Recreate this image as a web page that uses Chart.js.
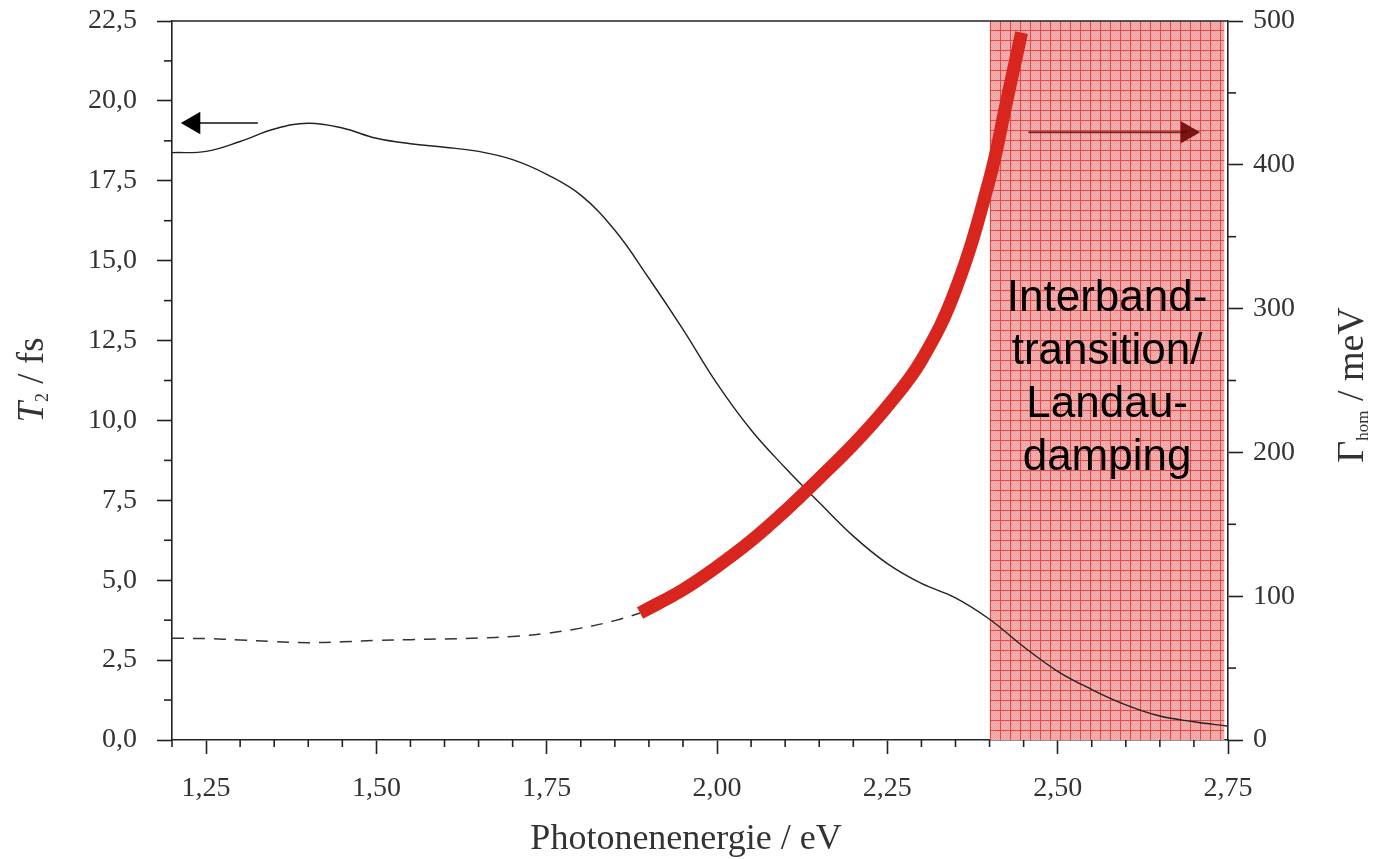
<!DOCTYPE html>
<html>
<head>
<meta charset="utf-8">
<script src="https://cdn.jsdelivr.net/npm/chart.js@4/dist/chart.umd.min.js"></script>
<style>
  body { margin: 0; background: #fff; }
  #wrap { width: 1373px; height: 859px; position: relative; }
</style>
</head>
<body>
<div id="wrap"><canvas id="c"></canvas></div>
<script>
// photon energy (eV) and dephasing time T2 (fs), left axis
var energyT2 = [1.20, 1.25, 1.30, 1.35, 1.40, 1.45, 1.50, 1.55, 1.60, 1.65, 1.70, 1.75, 1.80, 1.85, 1.90, 1.95,
                2.00, 2.05, 2.10, 2.15, 2.20, 2.25, 2.30, 2.35, 2.40, 2.45, 2.50, 2.55, 2.60, 2.65, 2.70, 2.75];
var t2Values = [18.38, 18.42, 18.73, 19.12, 19.30, 19.15, 18.83, 18.66, 18.55, 18.42, 18.16, 17.70, 17.05, 15.95, 14.45, 12.85,
                11.15, 9.70, 8.52, 7.43, 6.38, 5.52, 4.90, 4.45, 3.78, 2.92, 2.15, 1.58, 1.10, 0.75, 0.57, 0.43];

// homogeneous linewidth (meV), right axis: dashed part and thick red part
var energyGammaDash = [1.20, 1.25, 1.30, 1.35, 1.40, 1.45, 1.50, 1.55, 1.60, 1.65, 1.70, 1.75, 1.80, 1.85, 1.887];
var gammaDash = [70.8, 70.5, 69.6, 68.4, 67.7, 68.3, 69.3, 69.8, 70.3, 70.9, 72.0, 74.2, 77.8, 83.0, 88.3];
var energyGammaRed = [1.887, 1.95, 2.00, 2.05, 2.10, 2.15, 2.20, 2.25, 2.30, 2.35, 2.40, 2.425, 2.447];
var gammaRed = [88.3, 104.5, 120.5, 138.5, 159.3, 182, 205.5, 232, 264, 313, 390, 444, 492];

// interband / Landau damping band
var bandEnergy = [2.40, 2.745];
var bandGamma = [504, 504];
var bandLabel = ['Interband-', 'transition/', 'Landau-', 'damping'];

// arrows pointing to the axes
var arrowLeftX = [1.326, 1.232], arrowLeftY = [19.31, 19.31];
var arrowRightX = [2.457, 2.69], arrowRightY = [422.7, 422.7];

// ticks
var xTicks = [1.25, 1.50, 1.75, 2.00, 2.25, 2.50, 2.75];
var xTickLabels = ['1,25', '1,50', '1,75', '2,00', '2,25', '2,50', '2,75'];
var yTicks = [0, 2.5, 5, 7.5, 10, 12.5, 15, 17.5, 20, 22.5];
var yTickLabels = ['0,0', '2,5', '5,0', '7,5', '10,0', '12,5', '15,0', '17,5', '20,0', '22,5'];
var y2Ticks = [0, 100, 200, 300, 400, 500];
var y2TickLabels = ['0', '100', '200', '300', '400', '500'];

function pts(xs, ys) {
	return xs.map(function(x, i) { return {x: x, y: ys[i]}; });
}

var ink = '#222';
var serif = '"Liberation Serif", "Times New Roman", serif';

var canvas = document.getElementById('c');
var ctx0 = canvas.getContext('2d');

// pink area with red grid
var tile = document.createElement('canvas');
tile.width = 10; tile.height = 10;
var tctx = tile.getContext('2d');
for (var i = 0; i < 10; i++) {
	for (var j = 0; j < 10; j++) {
		tctx.fillStyle = (i + j) % 2 ? '#f6b6b6' : '#ef9c9c';
		tctx.fillRect(i, j, 1, 1);
	}
}
tctx.fillStyle = '#e34a46';
tctx.fillRect(0, 0, 10, 1);
tctx.fillRect(0, 0, 1, 10);
var hatch = ctx0.createPattern(tile, 'repeat');

function minorValues(start, end, step, majors) {
	var out = [];
	for (var v = start; v <= end + 1e-9; v += step) {
		var r = Math.round(v * 1000) / 1000;
		if (majors.indexOf(r) < 0) out.push(r);
	}
	return out;
}

function drawPieces(ctx, pieces) {
	var total = 0;
	pieces.forEach(function(p) { ctx.font = p.font; p.w = ctx.measureText(p.text).width; total += p.w; });
	var x = -total / 2;
	pieces.forEach(function(p) {
		ctx.font = p.font;
		ctx.fillText(p.text, x, p.dy || 0);
		x += p.w;
	});
}

var decor = {
	id: 'decor',
	afterDraw: function(chart) {
		var ctx = chart.ctx;
		var sx = chart.scales.x, sy = chart.scales.y, sy2 = chart.scales.y2;
		var area = chart.chartArea;
		ctx.save();
		ctx.strokeStyle = ink;
		ctx.lineWidth = 1.6;

		// top frame line
		ctx.beginPath();
		ctx.moveTo(area.left, area.top);
		ctx.lineTo(area.right, area.top);
		ctx.stroke();

		// minor ticks
		minorValues(1.20, 2.75, 0.05, xTicks).forEach(function(v) {
			var p = sx.getPixelForValue(v);
			ctx.beginPath(); ctx.moveTo(p, area.bottom); ctx.lineTo(p, area.bottom + 7); ctx.stroke();
		});
		minorValues(0, 22.5, 1.25, yTicks).forEach(function(v) {
			var p = sy.getPixelForValue(v);
			ctx.beginPath(); ctx.moveTo(area.left, p); ctx.lineTo(area.left - 8, p); ctx.stroke();
		});
		minorValues(0, 500, 50, y2Ticks).forEach(function(v) {
			var p = sy2.getPixelForValue(v);
			ctx.beginPath(); ctx.moveTo(area.right, p); ctx.lineTo(area.right + 8, p); ctx.stroke();
		});

		// band label
		ctx.fillStyle = '#000';
		ctx.font = '44px "Liberation Sans", Arial, sans-serif';
		ctx.textAlign = 'center';
		ctx.textBaseline = 'alphabetic';
		var cx = sx.getPixelForValue((bandEnergy[0] + bandEnergy[1]) / 2);
		var by = sy2.getPixelForValue(298);
		bandLabel.forEach(function(t, k) { ctx.fillText(t, cx, by + k * 53); });

		// axis titles
		ctx.fillStyle = '#333';
		ctx.textAlign = 'left';
		ctx.save();
		ctx.translate(43, 380);
		ctx.rotate(-Math.PI / 2);
		drawPieces(ctx, [
			{text: 'T', font: 'italic 37px ' + serif},
			{text: '2', font: '18px ' + serif, dy: 5},
			{text: ' / fs', font: '37px ' + serif}
		]);
		ctx.restore();

		ctx.save();
		ctx.translate(1363, 385);
		ctx.rotate(-Math.PI / 2);
		drawPieces(ctx, [
			{text: 'Γ', font: '38px ' + serif},
			{text: 'hom', font: '17px ' + serif, dy: 5},
			{text: ' / meV', font: '38px ' + serif}
		]);
		ctx.restore();

		ctx.textAlign = 'center';
		ctx.font = '36px ' + serif;
		ctx.fillText('Photonenenergie / eV', 686, 849);
		ctx.restore();
	}
};

function fixedTicks(values) {
	return function(scale) {
		scale.ticks = values.map(function(v) { return {value: v}; });
	};
}

function fitY(width) {
	return function(s) {
		s.width = width;
		s.paddingTop = 0;
		s.paddingBottom = 0;
	};
}

new Chart(canvas, {
	type: 'line',
	data: {
		datasets: [
			{
				label: 'arrow T2',
				data: pts(arrowLeftX, arrowLeftY),
				yAxisID: 'y',
				borderColor: '#111',
				borderWidth: 1.6,
				pointRadius: [0, 13],
				pointStyle: 'triangle',
				rotation: -90,
				pointBackgroundColor: '#000',
				pointBorderWidth: 0,
				order: 0
			},
			{
				label: 'arrow Gamma',
				data: pts(arrowRightX, arrowRightY),
				yAxisID: 'y2',
				borderColor: 'rgba(100, 20, 20, 0.85)',
				borderWidth: 2,
				pointRadius: [0, 13],
				pointStyle: 'triangle',
				rotation: 90,
				pointBackgroundColor: 'rgba(105, 5, 5, 0.9)',
				pointBorderWidth: 0,
				order: 0
			},
			{
				label: 'Gamma hom',
				data: pts(energyGammaRed, gammaRed),
				yAxisID: 'y2',
				borderColor: '#d8251d',
				borderWidth: 13,
				borderCapStyle: 'butt',
				tension: 0.4,
				pointRadius: 0,
				order: 1
			},
			{
				label: 'T2',
				data: pts(energyT2, t2Values),
				yAxisID: 'y',
				borderColor: '#222',
				borderWidth: 1.4,
				tension: 0.4,
				pointRadius: 0,
				order: 2
			},
			{
				label: 'Gamma hom (dashed)',
				data: pts(energyGammaDash, gammaDash),
				yAxisID: 'y2',
				borderColor: '#333',
				borderWidth: 1.5,
				borderDash: [12, 9],
				tension: 0.4,
				pointRadius: 0,
				order: 3
			},
			{
				label: 'band',
				data: pts(bandEnergy, bandGamma),
				yAxisID: 'y2',
				borderWidth: 0,
				borderColor: 'rgba(0,0,0,0)',
				backgroundColor: hatch,
				fill: 'origin',
				pointRadius: 0,
				clip: false,
				order: 10
			}
		]
	},
	options: {
		responsive: true,
		maintainAspectRatio: false,
		animation: false,
		events: [],
		layout: { padding: { top: 21, left: 0, right: 0, bottom: 0 } },
		plugins: {
			legend: { display: false },
			tooltip: { enabled: false }
		},
		scales: {
			x: {
				type: 'linear',
				min: 1.2,
				max: 2.75,
				afterBuildTicks: fixedTicks(xTicks),
				afterFit: function(s) { s.height = 119; s.paddingLeft = 0; s.paddingRight = 0; },
				border: { display: true, color: ink, width: 1.6 },
				grid: { display: true, drawOnChartArea: false, drawTicks: true, tickLength: 14, tickColor: ink, tickWidth: 1.6 },
				ticks: {
					padding: 18,
					maxRotation: 0,
					autoSkip: false,
					color: '#333',
					font: { family: serif, size: 28 },
					callback: function(v, i) { return xTickLabels[i]; }
				}
			},
			y: {
				type: 'linear',
				position: 'left',
				min: 0,
				max: 22.5,
				afterBuildTicks: fixedTicks(yTicks),
				afterFit: fitY(172),
				border: { display: true, color: ink, width: 1.6 },
				grid: { display: true, drawOnChartArea: false, drawTicks: true, tickLength: 15, tickColor: ink, tickWidth: 1.6 },
				ticks: {
					padding: 20,
					autoSkip: false,
					color: '#333',
					font: { family: serif, size: 28 },
					callback: function(v, i) { return yTickLabels[i]; }
				}
			},
			y2: {
				type: 'linear',
				position: 'right',
				min: 0,
				max: 500,
				afterBuildTicks: fixedTicks(y2Ticks),
				afterFit: fitY(145),
				border: { display: true, color: ink, width: 1.6 },
				grid: { display: true, drawOnChartArea: false, drawTicks: true, tickLength: 15, tickColor: ink, tickWidth: 1.6 },
				ticks: {
					padding: 10,
					autoSkip: false,
					color: '#333',
					font: { family: serif, size: 28 },
					callback: function(v, i) { return y2TickLabels[i]; }
				}
			}
		}
	},
	plugins: [decor]
});
</script>
</body>
</html>
